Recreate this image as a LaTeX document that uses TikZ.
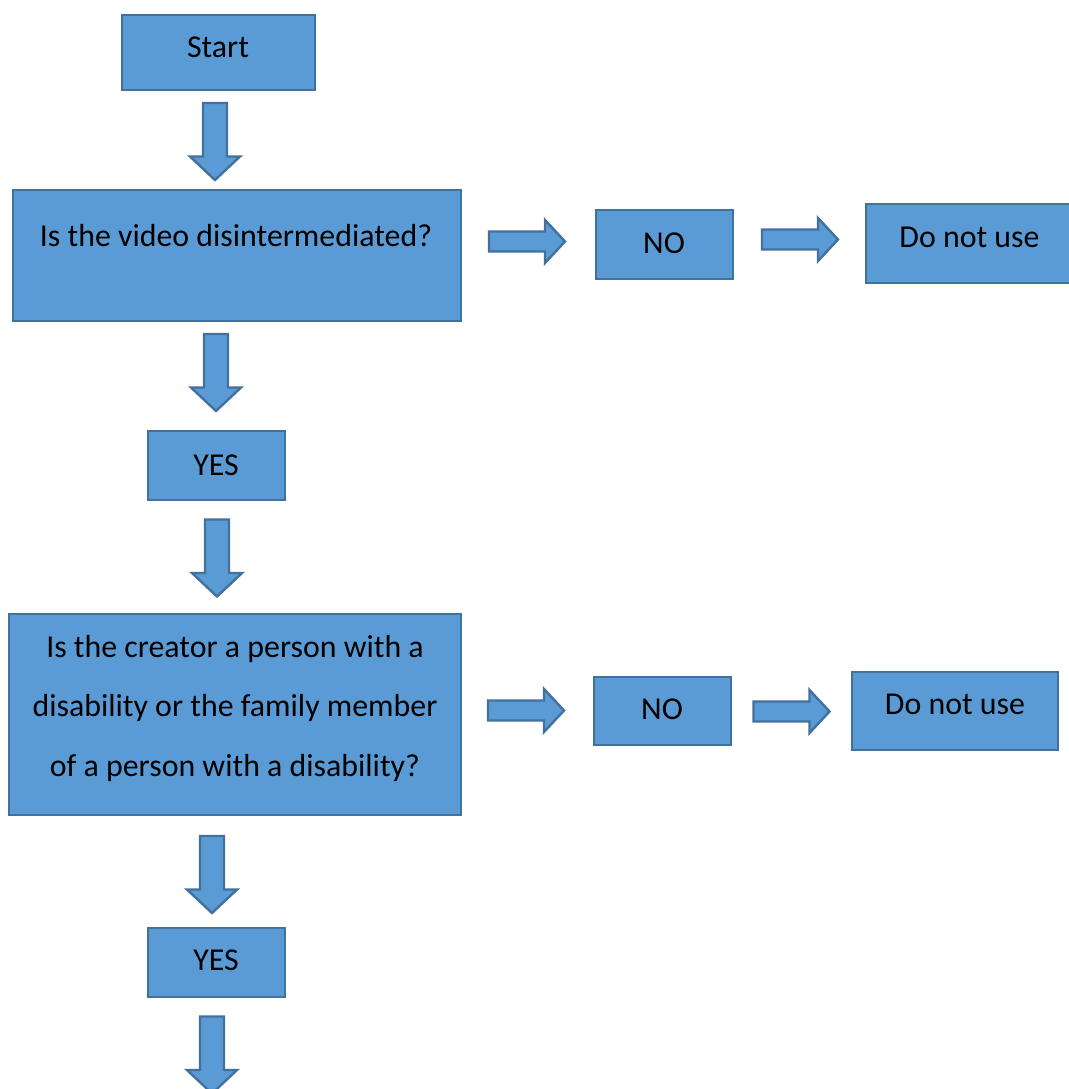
\documentclass[tikz,border=0pt]{standalone}
\usepackage{fontspec}
\setmainfont{Carlito}
\usetikzlibrary{calc}
\newlength{\pxu}\setlength{\pxu}{0.75pt}
\definecolor{boxfill}{HTML}{5B9BD5}
\definecolor{boxline}{HTML}{41719C}
\tikzset{
  box/.style={draw=boxline, fill=boxfill, line width=1.8pt, inner sep=0pt, outer sep=0pt},
  txt/.style={font=\fontsize{23.9}{28}\selectfont, anchor=base, inner sep=0pt, text=black},
  blockarrow/.style={draw=boxline, fill=boxfill, line width=1.8pt, line join=miter},
  pics/downarr/.style={code={\path[blockarrow] (-12,-38.5) -- (-12,15) -- (-25,15) -- (0,38.5) -- (25,15) -- (12,15) -- (12,-38.5) -- cycle;}},
  pics/rightarr/.style={code={\path[blockarrow] (-38,-10) -- (18,-10) -- (18,-21.5) -- (38,0) -- (18,21.5) -- (18,10) -- (-38,10) -- cycle;}},
}
\begin{document}
\begin{tikzpicture}[x=0.75pt, y=-0.75pt]
\useasboundingbox (0,0) rectangle (1069,1089);
\clip (0,0) rectangle (1069,1089);
\fill[white] (0,0) rectangle (1069,1089);
% boxes
\node[box, minimum width=193\pxu, minimum height=75\pxu] (start) at (218.5,52.5) {};
\node[box, minimum width=448\pxu, minimum height=131\pxu] (q1) at (237,255.5) {};
\node[box, minimum width=137\pxu, minimum height=69\pxu] (no1) at (664.5,244.5) {};
\node[box, minimum width=206\pxu, minimum height=79\pxu] (dn1) at (969,243.5) {};
\node[box, minimum width=137\pxu, minimum height=69\pxu] (yes1) at (216.5,465.5) {};
\node[box, minimum width=452\pxu, minimum height=201\pxu] (q2) at (235,714.5) {};
\node[box, minimum width=137\pxu, minimum height=68\pxu] (no2) at (662.5,711) {};
\node[box, minimum width=206\pxu, minimum height=78\pxu] (dn2) at (955,711) {};
\node[box, minimum width=137\pxu, minimum height=69\pxu] (yes2) at (216.5,962.5) {};
% texts
\node[txt] (tstart) at (218,57) {Start};
\node[txt] (tq1) at (236,246) {Is the video disintermediated?};
\node[txt] (tno1) at (664,253) {NO};
\node[txt] (tdn1) at (969.5,247) {Do not use};
\node[txt] (tyes1) at (216,475) {YES};
\node[txt] (tq2a) at (235,657) {Is the creator a person with a};
\node[txt] (tq2b) at (235,716.5) {disability or the family member};
\node[txt] (tq2c) at (235,776) {of a person with a disability?};
\node[txt] (tno2) at (662,719) {NO};
\node[txt] (tdn2) at (955,714) {Do not use};
\node[txt] (tyes2) at (216,970) {YES};
% block arrows
\pic at (215,141.5) {downarr};
\pic at (216,372.5) {downarr};
\pic at (217,558) {downarr};
\pic at (212,874.5) {downarr};
\pic at (212,1055) {downarr};
\pic at (527,241.5) {rightarr};
\pic at (800,239.5) {rightarr};
\pic at (526,710.5) {rightarr};
\pic at (791.5,711.5) {rightarr};
\end{tikzpicture}
\end{document}
